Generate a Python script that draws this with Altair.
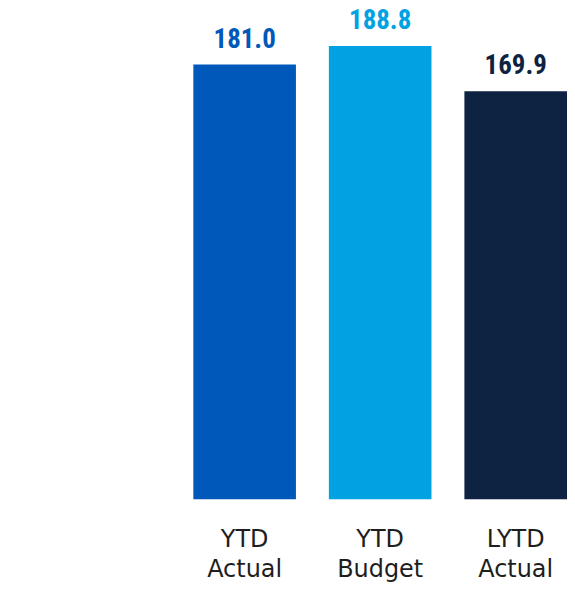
import altair as alt
import pandas as pd

categories = ["YTD Actual", "YTD Budget", "LYTD Actual"]
values = [181.0, 188.8, 169.9]
colors = ["#0058BA", "#00A2E1", "#0D2341"]

df = pd.DataFrame({"category": categories, "value": values, "color": colors,
                   "label": [f"{v:.1f}" for v in values]})

x = alt.X("category:N", sort=categories,
          scale=alt.Scale(paddingInner=0.243, paddingOuter=0),
          axis=alt.Axis(title=None, labelAngle=0, ticks=False, domain=False,
                        labelExpr="split(datum.label, ' ')",
                        labelFont="DejaVu Sans", labelFontSize=24,
                        labelColor="#1E1E1E", labelPadding=28,
                        labelLineHeight=31, labelBaseline="top"))
y = alt.Y("value:Q", scale=alt.Scale(domain=[0, 200], nice=False, zero=True),
          axis=None)
color = alt.Color("color:N", scale=None)

bars = alt.Chart(df).mark_bar().encode(x=x, y=y, color=color)
text = alt.Chart(df).mark_text(
    baseline="alphabetic", dy=-17, fontSize=27, fontWeight="bold",
    font="Roboto Condensed, Roboto, sans-serif"
).encode(x=x, y=y, text="label:N", color=color)

chart = (bars + text).properties(
    width=375, height=482,
    autosize=alt.AutoSizeParams(type="none"),
    padding={"left": 186, "top": 10, "right": 0, "bottom": 84},
).configure_view(stroke=None).configure_axis(grid=False)

chart.save("out.html", embed_options={"renderer": "svg", "actions": False})
